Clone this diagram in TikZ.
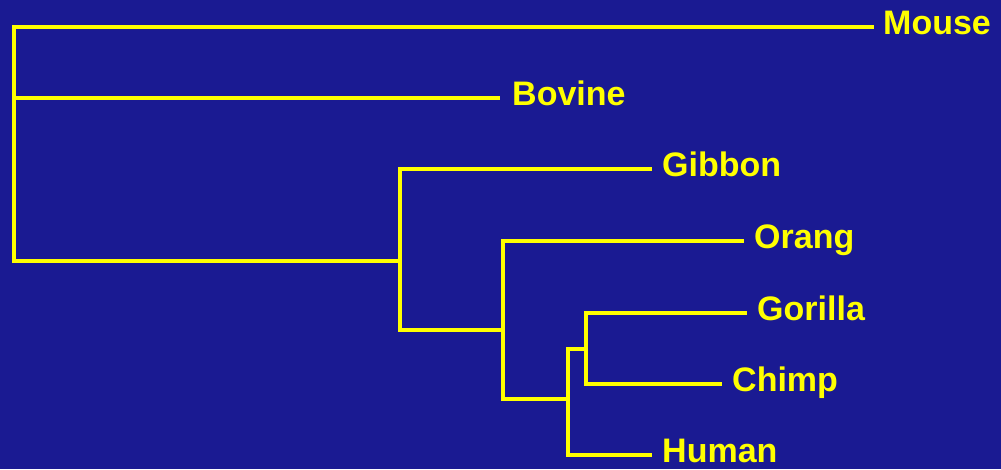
\documentclass[tikz,border=0pt]{standalone}
\usepackage{fontspec}
\setmainfont{Liberation Sans}
\definecolor{slide}{RGB}{26,26,146}
\definecolor{branch}{RGB}{255,255,0}
\begin{document}
\begin{tikzpicture}[x=1pt,y=-1pt,
  edge/.style={draw=branch,line width=3.3pt,line join=miter,line cap=rect},
  taxon/.style={anchor=base west,inner sep=0pt,text=branch,
    font=\fontsize{34}{40}\selectfont\bfseries}]
  % background
  \fill[slide] (0,0) rectangle (1001,469);
  \useasboundingbox (0,0) rectangle (1001,469);

  % internal nodes (position where each clade's stem meets its vertical bar)
  \coordinate (R) at (14,261);
  \coordinate (A) at (400,330);
  \coordinate (B) at (503,399);
  \coordinate (C) at (568,349);
  \coordinate (D) at (586,384);
  \coordinate (Ab) at (400,261);
  \coordinate (Bb) at (503,330);
  \coordinate (Cb) at (568,399);
  \coordinate (Db) at (586,349);

  % leaf ends
  \coordinate (mouseE) at (872,27);
  \coordinate (bovineE) at (498,98);
  \coordinate (gibbonE) at (650,169);
  \coordinate (orangE) at (742,241);
  \coordinate (gorillaE) at (745,313);
  \coordinate (chimpE) at (720,384);
  \coordinate (humanE) at (650,455);

  % labels
  \node[taxon] (mouse) at ([xshift=11pt,yshift=-7pt]mouseE) {Mouse};
  \node[taxon] (bovine) at ([xshift=14pt,yshift=-7pt]bovineE) {Bovine};
  \node[taxon] (gibbon) at ([xshift=12pt,yshift=-7pt]gibbonE) {Gibbon};
  \node[taxon] (orang) at ([xshift=12pt,yshift=-7pt]orangE) {Orang};
  \node[taxon] (gorilla) at ([xshift=12pt,yshift=-7pt]gorillaE) {Gorilla};
  \node[taxon] (chimp) at ([xshift=12pt,yshift=-7pt]chimpE) {Chimp};
  \node[taxon] (human) at ([xshift=12pt,yshift=-7pt]humanE) {Human};

  % root
  \path[edge] (R) |- (mouseE);
  \path[edge] (R) |- (bovineE);
  \path[edge] (R) -- (Ab);
  % primates
  \path[edge] (Ab) |- (gibbonE);
  \path[edge] (Ab) -- (A) -- (Bb);
  \path[edge] (Bb) |- (orangE);
  \path[edge] (Bb) -- (B) -- (Cb);
  \path[edge] (Cb) |- (humanE);
  \path[edge] (Cb) -- (C) -- (Db);
  \path[edge] (Db) |- (gorillaE);
  \path[edge] (Db) -- (D) -- (chimpE);
\end{tikzpicture}
\end{document}
